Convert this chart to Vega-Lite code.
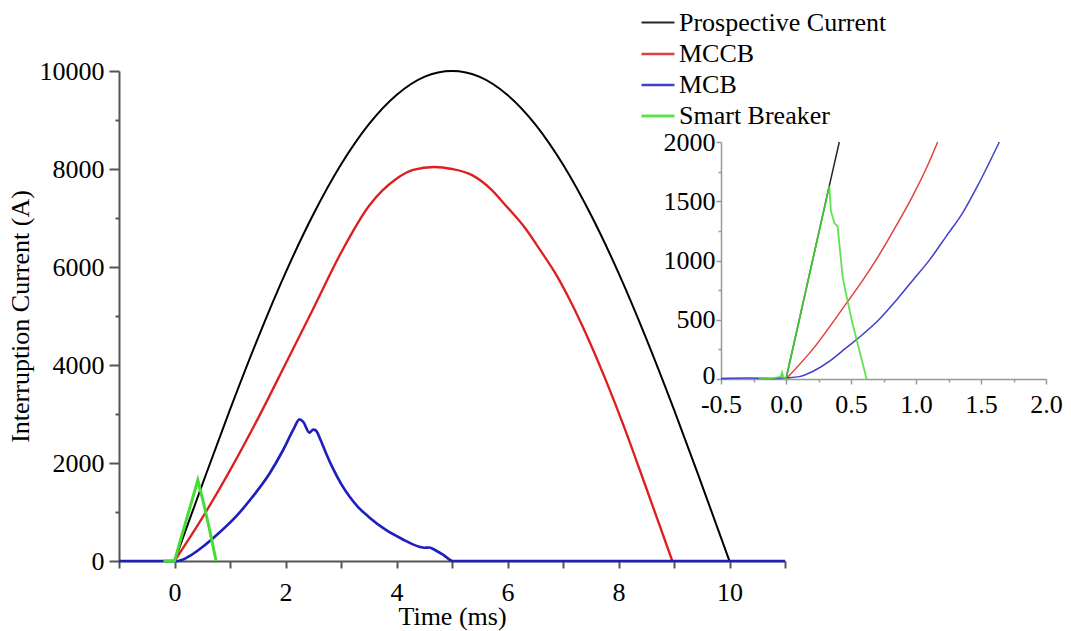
{
  "$schema": "https://vega.github.io/schema/vega-lite/v6.json",
  "width": 666,
  "height": 490,
  "autosize": {"type": "none"},
  "padding": {"left": 119, "top": 71, "right": 286, "bottom": 70},
  "background": "white",
  "config": {
    "view": {"stroke": null},
    "font": "Liberation Serif",
    "axis": {"grid": false, "labelFont": "Liberation Serif", "titleFont": "Liberation Serif", "labelColor": "#000", "titleColor": "#000", "titleFontWeight": "normal", "labelOverlap": false, "labelFlush": false}
  },
  "datasets": {
    "main": [
      {"s": "Prospective Current", "t": 0, "i": 0},
      {"s": "Prospective Current", "t": 0.5, "i": 1560},
      {"s": "Prospective Current", "t": 1, "i": 3090},
      {"s": "Prospective Current", "t": 1.5, "i": 4540},
      {"s": "Prospective Current", "t": 2, "i": 5880},
      {"s": "Prospective Current", "t": 2.5, "i": 7070},
      {"s": "Prospective Current", "t": 3, "i": 8090},
      {"s": "Prospective Current", "t": 3.5, "i": 8910},
      {"s": "Prospective Current", "t": 4, "i": 9510},
      {"s": "Prospective Current", "t": 4.5, "i": 9880},
      {"s": "Prospective Current", "t": 5, "i": 10000},
      {"s": "Prospective Current", "t": 5.5, "i": 9880},
      {"s": "Prospective Current", "t": 6, "i": 9510},
      {"s": "Prospective Current", "t": 6.5, "i": 8910},
      {"s": "Prospective Current", "t": 7, "i": 8090},
      {"s": "Prospective Current", "t": 7.5, "i": 7070},
      {"s": "Prospective Current", "t": 8, "i": 5880},
      {"s": "Prospective Current", "t": 8.5, "i": 4540},
      {"s": "Prospective Current", "t": 9, "i": 3090},
      {"s": "Prospective Current", "t": 9.5, "i": 1560},
      {"s": "Prospective Current", "t": 10, "i": 0},
      {"s": "MCCB", "t": 0, "i": 0},
      {"s": "MCCB", "t": 0.5, "i": 880},
      {"s": "MCCB", "t": 1.0, "i": 1850},
      {"s": "MCCB", "t": 1.5, "i": 2900},
      {"s": "MCCB", "t": 2.0, "i": 4020},
      {"s": "MCCB", "t": 2.5, "i": 5150},
      {"s": "MCCB", "t": 3.0, "i": 6290},
      {"s": "MCCB", "t": 3.5, "i": 7240},
      {"s": "MCCB", "t": 4.0, "i": 7800},
      {"s": "MCCB", "t": 4.3, "i": 7980},
      {"s": "MCCB", "t": 4.68, "i": 8040},
      {"s": "MCCB", "t": 5.0, "i": 8000},
      {"s": "MCCB", "t": 5.37, "i": 7870},
      {"s": "MCCB", "t": 5.7, "i": 7590},
      {"s": "MCCB", "t": 5.98, "i": 7240},
      {"s": "MCCB", "t": 6.3, "i": 6820},
      {"s": "MCCB", "t": 6.58, "i": 6360},
      {"s": "MCCB", "t": 6.9, "i": 5800},
      {"s": "MCCB", "t": 7.18, "i": 5200},
      {"s": "MCCB", "t": 7.5, "i": 4420},
      {"s": "MCCB", "t": 7.8, "i": 3610},
      {"s": "MCCB", "t": 8.08, "i": 2800},
      {"s": "MCCB", "t": 8.5, "i": 1490},
      {"s": "MCCB", "t": 8.97, "i": 0},
      {"s": "MCB", "t": -1, "i": 0},
      {"s": "MCB", "t": 0.06, "i": 0},
      {"s": "MCB", "t": 0.3, "i": 120},
      {"s": "MCB", "t": 0.51, "i": 290},
      {"s": "MCB", "t": 0.8, "i": 570},
      {"s": "MCB", "t": 1.11, "i": 910},
      {"s": "MCB", "t": 1.4, "i": 1300},
      {"s": "MCB", "t": 1.71, "i": 1780},
      {"s": "MCB", "t": 1.95, "i": 2250},
      {"s": "MCB", "t": 2.15, "i": 2700},
      {"s": "MCB", "t": 2.25, "i": 2892},
      {"s": "MCB", "t": 2.32, "i": 2840},
      {"s": "MCB", "t": 2.43, "i": 2620},
      {"s": "MCB", "t": 2.5, "i": 2680},
      {"s": "MCB", "t": 2.55, "i": 2660},
      {"s": "MCB", "t": 2.62, "i": 2500},
      {"s": "MCB", "t": 2.73, "i": 2200},
      {"s": "MCB", "t": 2.85, "i": 1900},
      {"s": "MCB", "t": 3.0, "i": 1580},
      {"s": "MCB", "t": 3.15, "i": 1320},
      {"s": "MCB", "t": 3.3, "i": 1110},
      {"s": "MCB", "t": 3.5, "i": 900},
      {"s": "MCB", "t": 3.81, "i": 633},
      {"s": "MCB", "t": 4.1, "i": 450},
      {"s": "MCB", "t": 4.41, "i": 292},
      {"s": "MCB", "t": 4.5, "i": 270},
      {"s": "MCB", "t": 4.59, "i": 275},
      {"s": "MCB", "t": 4.7, "i": 220},
      {"s": "MCB", "t": 4.85, "i": 120},
      {"s": "MCB", "t": 5.01, "i": 0},
      {"s": "MCB", "t": 11, "i": 0},
      {"s": "Smart Breaker", "t": -0.2, "i": 0},
      {"s": "Smart Breaker", "t": 0, "i": 0},
      {"s": "Smart Breaker", "t": 0.42, "i": 1650},
      {"s": "Smart Breaker", "t": 0.47, "i": 1420},
      {"s": "Smart Breaker", "t": 0.51, "i": 1250},
      {"s": "Smart Breaker", "t": 0.62, "i": 700},
      {"s": "Smart Breaker", "t": 0.75, "i": 0}
    ],
    "inset": [
      {"s": "Prospective Current", "t": 0, "i": 0},
      {"s": "Prospective Current", "t": 0.333, "i": 1630},
      {"s": "Prospective Current", "t": 0.41, "i": 2000},
      {"s": "MCCB", "t": 0, "i": 0},
      {"s": "MCCB", "t": 0.205, "i": 250},
      {"s": "MCCB", "t": 0.46, "i": 632},
      {"s": "MCCB", "t": 0.59, "i": 832},
      {"s": "MCCB", "t": 0.718, "i": 1050},
      {"s": "MCCB", "t": 0.846, "i": 1290},
      {"s": "MCCB", "t": 0.974, "i": 1544},
      {"s": "MCCB", "t": 1.077, "i": 1772},
      {"s": "MCCB", "t": 1.167, "i": 2000},
      {"s": "MCB", "t": -0.5, "i": 5},
      {"s": "MCB", "t": -0.3, "i": 8},
      {"s": "MCB", "t": -0.1, "i": 5},
      {"s": "MCB", "t": 0, "i": 10},
      {"s": "MCB", "t": 0.103, "i": 20},
      {"s": "MCB", "t": 0.205, "i": 63},
      {"s": "MCB", "t": 0.333, "i": 148},
      {"s": "MCB", "t": 0.462, "i": 262},
      {"s": "MCB", "t": 0.59, "i": 376},
      {"s": "MCB", "t": 0.718, "i": 504},
      {"s": "MCB", "t": 0.846, "i": 661},
      {"s": "MCB", "t": 0.974, "i": 832},
      {"s": "MCB", "t": 1.103, "i": 1003},
      {"s": "MCB", "t": 1.231, "i": 1202},
      {"s": "MCB", "t": 1.359, "i": 1402},
      {"s": "MCB", "t": 1.487, "i": 1658},
      {"s": "MCB", "t": 1.641, "i": 2000},
      {"s": "Smart Breaker", "t": -0.21, "i": 0},
      {"s": "Smart Breaker", "t": -0.1, "i": 5},
      {"s": "Smart Breaker", "t": -0.04, "i": 20},
      {"s": "Smart Breaker", "t": -0.03, "i": 55},
      {"s": "Smart Breaker", "t": -0.02, "i": 15},
      {"s": "Smart Breaker", "t": 0, "i": 0},
      {"s": "Smart Breaker", "t": 0.333, "i": 1630},
      {"s": "Smart Breaker", "t": 0.346, "i": 1416},
      {"s": "Smart Breaker", "t": 0.372, "i": 1316},
      {"s": "Smart Breaker", "t": 0.397, "i": 1288},
      {"s": "Smart Breaker", "t": 0.436, "i": 860},
      {"s": "Smart Breaker", "t": 0.462, "i": 718},
      {"s": "Smart Breaker", "t": 0.513, "i": 462},
      {"s": "Smart Breaker", "t": 0.62, "i": 0}
    ]
  },
  "layer": [
    {
      "data": {"name": "main"},
      "encoding": {
        "x": {
          "field": "t", "type": "quantitative",
          "scale": {"domain": [-1, 11], "nice": false, "zero": false},
          "axis": {
            "orient": "bottom",
            "values": [-1, 0, 1, 2, 3, 4, 5, 6, 7, 8, 9, 10, 11],
            "labelExpr": "datum.value % 2 === 0 ? datum.label : ''",
            "tickSize": 7, "tickWidth": 2, "tickColor": "#555",
            "domainWidth": 2, "domainColor": "#555",
            "labelFontSize": 26, "labelPadding": 11,
            "title": "Time (ms)", "titleFontSize": 26, "titlePadding": -2
          }
        },
        "y": {
          "field": "i", "type": "quantitative",
          "scale": {"domain": [0, 10000], "nice": false},
          "axis": {
            "orient": "left",
            "values": [0, 1000, 2000, 3000, 4000, 5000, 6000, 7000, 8000, 9000, 10000],
            "format": "d",
            "labelExpr": "datum.value % 2000 === 0 ? datum.label : ''",
            "tickSize": {"condition": {"test": "datum.value % 2000 === 0", "value": 10}, "value": 4},
            "tickWidth": 2, "tickColor": "#555",
            "domainWidth": 2, "domainColor": "#555",
            "labelFontSize": 26, "labelPadding": 5,
            "title": "Interruption Current (A)", "titleFontSize": 26, "titlePadding": 6
          }
        },
        "color": {
          "field": "s", "type": "nominal",
          "scale": {"domain": ["Prospective Current", "MCCB", "MCB", "Smart Breaker"], "range": ["#000000", "#dd1f1f", "#1f1fbf", "#44dd33"]},
          "legend": {
            "orient": "none", "legendX": 521, "legendY": -66,
            "title": null, "symbolType": "stroke", "symbolSize": 1089, "symbolStrokeWidth": 4,
            "labelFont": "Liberation Serif", "labelFontSize": 26, "labelColor": "#000", "labelOffset": 3,
            "rowPadding": -6.5, "padding": 0, "labelLimit": 400
          }
        },
        "strokeWidth": {
          "field": "s", "type": "nominal",
          "scale": {"domain": ["Prospective Current", "MCCB", "MCB", "Smart Breaker"], "range": [2, 3, 3.5, 4.5]},
          "legend": null
        }
      },
      "layer": [
        {
          "transform": [{"filter": "datum.s !== 'Smart Breaker'"}],
          "mark": {"type": "line", "interpolate": "monotone"}
        },
        {
          "transform": [{"filter": "datum.s === 'Smart Breaker'"}],
          "mark": {"type": "line", "interpolate": "linear"}
        }
      ]
    },
    {
      "data": {"name": "inset"},
      "encoding": {
        "x": {
          "field": "t", "type": "quantitative",
          "scale": {"domain": [-0.5, 2], "range": [602, 927], "nice": false, "zero": false},
          "axis": {
            "orient": "bottom", "offset": -182,
            "values": [-0.5, -0.25, 0, 0.25, 0.5, 0.75, 1, 1.25, 1.5, 1.75, 2],
            "labelExpr": "datum.value % 0.5 === 0 ? (datum.value < 0 ? '-' : '') + format(abs(datum.value), '.1f') : ''",
            "tickSize": {"condition": {"test": "datum.value % 0.5 === 0", "value": 5}, "value": 3},
            "tickWidth": 1.5, "tickColor": "#999",
            "domainWidth": 1.5, "domainColor": "#999",
            "labelFontSize": 26, "labelPadding": 7,
            "title": null
          }
        },
        "y": {
          "field": "i", "type": "quantitative",
          "scale": {"domain": [0, 2000], "range": [308, 71], "nice": false},
          "axis": {
            "orient": "left", "offset": -602,
            "values": [0, 250, 500, 750, 1000, 1250, 1500, 1750, 2000],
            "format": "d",
            "labelExpr": "datum.value % 500 === 0 ? datum.label : ''",
            "labelOffset": {"condition": {"test": "datum.value === 0", "value": -4}, "value": 0},
            "tickSize": {"condition": {"test": "datum.value % 500 === 0", "value": 5}, "value": 3},
            "tickWidth": 1.5, "tickColor": "#999",
            "domainWidth": 1.5, "domainColor": "#999",
            "labelFontSize": 26, "labelPadding": 1,
            "title": null
          }
        },
        "color": {"field": "s", "type": "nominal"}
      },
      "layer": [
        {
          "transform": [{"filter": "datum.s !== 'Smart Breaker'"}],
          "mark": {"type": "line", "strokeWidth": 1.5, "opacity": 0.85, "interpolate": "monotone"}
        },
        {
          "transform": [{"filter": "datum.s === 'Smart Breaker'"}],
          "mark": {"type": "line", "strokeWidth": 1.8, "opacity": 0.85, "interpolate": "linear"}
        }
      ]
    }
  ],
  "resolve": {"scale": {"x": "independent", "y": "independent"}}
}
